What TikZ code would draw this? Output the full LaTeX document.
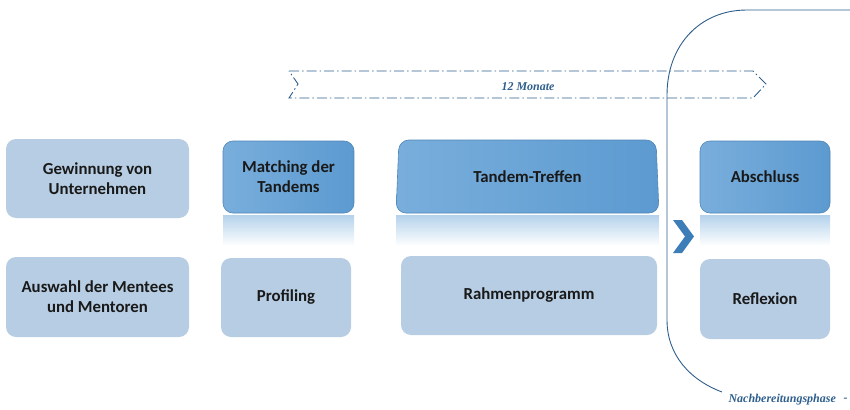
\documentclass[tikz,border=0pt]{standalone}
\usepackage{fontspec}
\setmainfont{Carlito}
\newfontfamily\scriptface{Liberation Serif}
\definecolor{lightbox}{HTML}{B7CDE3}
\definecolor{darkbox}{HTML}{6AA5D8}
\definecolor{darkboxb}{HTML}{5C9AD0}
\definecolor{darkedge}{HTML}{4F86B8}
\definecolor{linecol}{HTML}{2E5E8C}
\definecolor{chev}{HTML}{3D7EB8}
\begin{document}
\begin{tikzpicture}[x=1pt,y=-1pt,
  lightstep/.style={fill=lightbox, rounded corners=10pt, draw=none},
  darkstep/.style={left color=darkbox!90!white, right color=darkboxb, draw=darkedge, line width=0.6pt, rounded corners=10pt},
  mirror/.style={top color=darkbox!50!white, bottom color=white, draw=none},
  steplabel/.style={font=\bfseries\fontsize{16.8}{20}\selectfont, align=center, text=black!90},
  scriptlabel/.style={font=\scriptface\itshape\bfseries\fontsize{12}{14}\selectfont, text=linecol}]
\useasboundingbox (0,0) rectangle (850,409);

% light boxes
\path[lightstep] (6,139) rectangle (189,218);
\node[steplabel] (gew) at (97.5,178.5) {Gewinnung von\\Unternehmen};
\path[lightstep] (6,257) rectangle (189,337);
\node[steplabel] (aus) at (97.5,297) {Auswahl der Mentees\\und Mentoren};
\path[lightstep] (221,258) rectangle (351,337);
\node[steplabel] (pro) at (286,297.5) {Profiling};
\path[lightstep] (401,256) rectangle (657,335);
\node[steplabel] (rah) at (529,295.5) {Rahmenprogramm};
\path[lightstep] (700,259) rectangle (830,339);
\node[steplabel] (ref) at (765,299) {Reflexion};

% reflections under the dark boxes
\path[mirror] (223,215) rectangle (354,246);
\path[mirror] (396,215) rectangle (659,246);
\path[mirror] (700,215) rectangle (830,246);

% dark boxes
\path[darkstep] (223,141) rectangle (354,213);
\node[steplabel] (mat) at (288.5,177) {Matching der\\Tandems};
\path[darkstep] (399,140) -- (656,140) -- (659,213) -- (396,213) -- cycle;
\node[steplabel] (tan) at (527.5,176.5) {Tandem-Treffen};
\path[darkstep] (700,141) rectangle (830,213);
\node[steplabel] (abs) at (765,177) {Abschluss};

% chevron
\fill[chev] (673,220) -- (682,220) -- (694,236.5) -- (682,253) -- (673,253) -- (685,236.5) -- cycle;

% 12-month banner
\draw[linecol, line width=0.9pt, dash pattern=on 10pt off 3pt on 1.5pt off 3pt]
  (289,71) -- (753,71) -- (766,84) -- (753,98) -- (289,98) -- (298,84) -- cycle;
\node[scriptlabel] (mon) at (528,87) {12 Monate};

% follow-up phase bracket
\coordinate (brtop) at (850,10);
\coordinate (brend) at (722,392);
\draw[linecol, line width=0.9pt] (brtop) -- (747,10)
  .. controls (700,10) and (667,45) .. (667,95) -- (667,320)
  .. controls (667,355) and (690,380) .. (brend);
\node[scriptlabel, anchor=west] (nach) at (725,400) {Nachbereitungsphase};
\node[scriptlabel, anchor=west] (dash) at (840,400) {-};
\end{tikzpicture}
\end{document}
